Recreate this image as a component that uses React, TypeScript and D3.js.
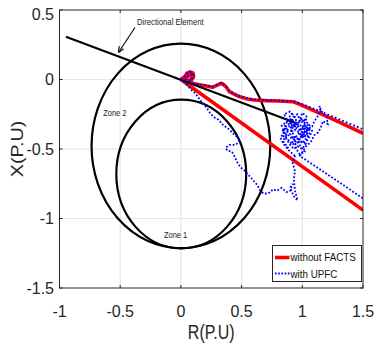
import * as d3 from "d3";

const W = 374;
const H = 345;
const LEFT = 59.5;
const RIGHT = 363;
const TOP = 10;
const BOTTOM = 288;

const xTicks = [-1, -0.5, 0, 0.5, 1, 1.5];
const yTicks = [0.5, 0, -0.5, -1, -1.5];

// zone circles: centre R, centre X, radius
const zones = [
  { name: "Zone 2", cr: 0, cx: -0.478, r: 0.736, label: [-0.64, -0.24] },
  { name: "Zone 1", cr: 0.003, cx: -0.68, r: 0.535, label: [-0.14, -1.12] },
];

const directional = [
  [-0.947, 0.308],
  [0.953, -0.315],
];

const originLoop = [
  [0, 0], [0.03, 0.02], [0.05, 0.045], [0.075, 0.055], [0.1, 0.045], [0.105, 0.02],
  [0.09, 0.0], [0.06, -0.01], [0.04, 0.0], [0.06, 0.03], [0.085, 0.035], [0.09, 0.01],
  [0.07, -0.01], [0.1, -0.028],
];

const redUpper = [
  [0.16, -0.04], [0.21, -0.047], [0.26, -0.056], [0.3, -0.04], [0.335, -0.027],
  [0.37, -0.05], [0.4, -0.088], [0.45, -0.11], [0.486, -0.124], [0.55, -0.14],
  [0.6, -0.147], [0.7, -0.152], [0.8, -0.155], [0.925, -0.16], [0.97, -0.175],
  [1.008, -0.19], [1.145, -0.243], [1.3, -0.305], [1.5, -0.387],
];

const redLower = [
  [0, 0],
  [1.5, -0.94],
];

const blueUpper = [
  [0.16, -0.035], [0.21, -0.043], [0.26, -0.052], [0.3, -0.036], [0.335, -0.023],
  [0.37, -0.046], [0.4, -0.084], [0.45, -0.106], [0.486, -0.12], [0.55, -0.136],
  [0.6, -0.143], [0.7, -0.148], [0.8, -0.151], [0.925, -0.156], [0.97, -0.168],
  [1.008, -0.18], [1.145, -0.228], [1.3, -0.285], [1.5, -0.358],
];

const blueWander = [
  [0, 0], [0.02, -0.01], [0.05, -0.04], [0.08, -0.07], [0.12, -0.1], [0.16, -0.15],
  [0.2, -0.19], [0.24, -0.24], [0.27, -0.27], [0.31, -0.29], [0.35, -0.33], [0.4, -0.36],
  [0.43, -0.39], [0.46, -0.41], [0.49, -0.44], [0.45, -0.47], [0.4, -0.47], [0.37, -0.49],
  [0.38, -0.51], [0.42, -0.52], [0.44, -0.55], [0.46, -0.59], [0.49, -0.63], [0.53, -0.66],
  [0.57, -0.7], [0.6, -0.73], [0.63, -0.76], [0.65, -0.795], [0.68, -0.82], [0.72, -0.82],
  [0.76, -0.79], [0.79, -0.8], [0.83, -0.78], [0.87, -0.81], [0.9, -0.8], [0.92, -0.75],
  [0.9, -0.78], [0.93, -0.84], [0.96, -0.87], [0.94, -0.8], [0.93, -0.72], [0.94, -0.66],
  [0.92, -0.6], [0.94, -0.55],
];

// dense cluster around R≈0.95, X≈-0.39
const blueCluster = [
  [0.94, -0.55], [0.9, -0.52], [0.85, -0.47], [0.82, -0.42], [0.85, -0.38], [0.83, -0.33], [0.88, -0.3],
  [0.85, -0.25], [0.9, -0.23], [0.93, -0.27], [0.91, -0.32], [0.95, -0.35], [0.98, -0.29],
  [1.0, -0.24], [1.04, -0.27], [1.01, -0.33], [1.06, -0.36], [1.02, -0.41], [0.97, -0.39],
  [0.93, -0.43], [0.89, -0.41], [0.87, -0.36], [0.91, -0.37], [0.94, -0.31], [0.97, -0.34],
  [1.0, -0.38], [1.04, -0.32], [1.08, -0.37], [1.05, -0.43], [1.01, -0.46], [0.98, -0.43],
  [0.95, -0.47], [0.92, -0.45], [0.88, -0.49], [0.84, -0.44], [0.87, -0.4], [0.84, -0.37],
  [0.89, -0.34], [0.92, -0.28], [0.96, -0.25], [0.99, -0.31], [1.02, -0.29], [1.06, -0.33],
  [1.03, -0.38], [0.99, -0.41], [0.96, -0.44], [0.99, -0.49], [1.02, -0.52], [0.98, -0.54],
  [0.95, -0.5], [0.93, -0.4], [0.9, -0.35], [0.96, -0.3], [1.0, -0.35], [1.04, -0.4],
  [0.97, -0.42], [0.92, -0.47], [0.89, -0.44], [0.86, -0.41], [0.88, -0.37], [0.85, -0.35],
  [0.87, -0.31], [0.91, -0.3], [0.89, -0.27], [0.92, -0.25], [0.95, -0.28], [0.94, -0.33],
  [0.97, -0.31], [1.0, -0.28], [1.02, -0.32], [0.99, -0.36], [1.03, -0.35], [1.06, -0.39],
  [1.03, -0.43], [1.0, -0.41], [0.96, -0.37], [0.93, -0.36], [0.9, -0.39], [0.92, -0.42],
  [0.95, -0.41], [0.98, -0.46], [1.0, -0.44], [1.03, -0.46], [1.0, -0.5], [0.96, -0.48],
  [0.93, -0.5], [0.9, -0.47], [0.87, -0.43], [0.84, -0.4], [0.86, -0.34], [0.89, -0.32],
  [0.93, -0.34], [0.96, -0.33], [0.98, -0.37], [1.01, -0.39], [1.04, -0.36], [1.08, -0.34],
  [1.1, -0.3], [1.13, -0.26], [1.15, -0.21], [1.14, -0.19], [1.16, -0.23], [1.2, -0.27],
  [1.21, -0.32], [1.17, -0.3], [1.15, -0.35], [1.13, -0.38], [1.1, -0.4], [1.07, -0.45],
  [1.03, -0.48], [0.98, -0.55], [1.5, -0.855],
];

const FONT = "'Liberation Sans', Arial, sans-serif";

export default function App() {
  const x = d3.scaleLinear().domain([-1, 1.5]).range([LEFT, RIGHT]);
  const y = d3.scaleLinear().domain([0.5, -1.5]).range([TOP, BOTTOM]);
  const line = d3
    .line<number[]>()
    .x((d) => x(d[0]))
    .y((d) => y(d[1]));

  return (
    <div style={{ position: "absolute", left: 0, top: 0 }}>
      <svg width={W} height={H} style={{ display: "block", background: "#fff" }} fontFamily={FONT}>
        <defs>
          <clipPath id="plot">
            <rect x={LEFT} y={TOP} width={RIGHT - LEFT} height={BOTTOM - TOP} />
          </clipPath>
        </defs>
        <rect x={LEFT} y={TOP} width={RIGHT - LEFT} height={BOTTOM - TOP} fill="#fff" />
        <g stroke="#e6e6e6" strokeWidth={1.2}>
          {xTicks.slice(1, -1).map((t) => (
            <line key={`gx${t}`} x1={x(t)} x2={x(t)} y1={TOP} y2={BOTTOM} />
          ))}
          {yTicks.slice(1, -1).map((t) => (
            <line key={`gy${t}`} x1={LEFT} x2={RIGHT} y1={y(t)} y2={y(t)} />
          ))}
        </g>
        <g clipPath="url(#plot)">
          {zones.map((z) => (
            <ellipse
              key={z.name}
              cx={x(z.cr)}
              cy={y(z.cx)}
              rx={x(z.r) - x(0)}
              ry={y(-z.r) - y(0)}
              fill="none"
              stroke="#000"
              strokeWidth={2.2}
            />
          ))}
          <path d={line(redLower) ?? ""} fill="none" stroke="#ff0000" strokeWidth={3.6} />
          <path d={line([...originLoop, ...redUpper]) ?? ""} fill="none" stroke="#ff0000" strokeWidth={3.6} strokeLinejoin="round" />
          <path d={line(directional) ?? ""} fill="none" stroke="#000" strokeWidth={2.2} />
          <path d={line(blueWander) ?? ""} fill="none" stroke="#0000ff" strokeWidth={1.8} strokeDasharray="1.8,1.8" />
          <path d={line(blueCluster) ?? ""} fill="none" stroke="#0000ff" strokeWidth={1.8} strokeDasharray="1.8,1.8" />
          <path d={line([...originLoop, ...blueUpper]) ?? ""} fill="none" stroke="#0000ff" strokeWidth={1.9} strokeDasharray="1.8,2.2" />
        </g>
        {/* annotations */}
        <g fill="#222" fontSize={7.7}>
          <text transform={`translate(137,24.5) scale(1,1.2)`}>Directional Element</text>
          {zones.map((z) => (
            <text key={z.name} transform={`translate(${x(z.label[0])},${y(z.label[1]) + 3}) scale(1,1.2)`} fontSize={7.5}>
              {z.name}
            </text>
          ))}
        </g>
        <line x1={135} y1={27.5} x2={118.5} y2={52.5} stroke="#111" strokeWidth={1.2} />
        <path d="M118.5,52.5 L119.3,46.2 M118.5,52.5 L123.6,48.8" stroke="#111" strokeWidth={1.2} fill="none" />
        {/* frame and ticks */}
        <g stroke="#262626" strokeWidth={1} fill="none">
          <rect x={LEFT} y={TOP} width={RIGHT - LEFT} height={BOTTOM - TOP} />
          {xTicks.map((t) => (
            <g key={`tx${t}`}>
              <line x1={x(t)} x2={x(t)} y1={BOTTOM} y2={BOTTOM - 3} />
              <line x1={x(t)} x2={x(t)} y1={TOP} y2={TOP + 3} />
            </g>
          ))}
          {yTicks.map((t) => (
            <g key={`ty${t}`}>
              <line x1={LEFT} x2={LEFT + 3} y1={y(t)} y2={y(t)} />
              <line x1={RIGHT} x2={RIGHT - 3} y1={y(t)} y2={y(t)} />
            </g>
          ))}
        </g>
        <g fill="#262626" fontSize={16}>
          {xTicks.map((t) => (
            <text key={`lx${t}`} x={x(t)} y={317} textAnchor="middle">
              {t}
            </text>
          ))}
          {yTicks.map((t) => (
            <text key={`ly${t}`} x={54} y={Math.max(y(t), 14) + 5.5} textAnchor="end">
              {t}
            </text>
          ))}
        </g>
        <text fill="#262626" fontSize={16} textAnchor="middle" transform={`translate(${(LEFT + RIGHT) / 2},338.5) scale(1,1.3)`}>
          R(P.U)
        </text>
        <text fill="#262626" fontSize={16} textAnchor="middle" transform={`translate(23,${(TOP + BOTTOM) / 2}) rotate(-90) scale(1.23,1)`}>
          X(P.U)
        </text>
        {/* legend */}
        <g>
          <rect x={272.5} y={245.5} width={89} height={36} fill="#fff" stroke="#262626" strokeWidth={1} />
          <line x1={275} x2={289.5} y1={257.5} y2={257.5} stroke="#ff0000" strokeWidth={3.6} />
          <line x1={275} x2={289.5} y1={273.5} y2={273.5} stroke="#0000ff" strokeWidth={1.8} strokeDasharray="1.6,1.6" />
          <g fill="#111" fontSize={9.8}>
            <text transform="translate(290.5,261) scale(1,1.2)">without FACTS</text>
            <text transform="translate(290.5,277.5) scale(1,1.2)">with UPFC</text>
          </g>
        </g>
      </svg>
    </div>
  );
}
